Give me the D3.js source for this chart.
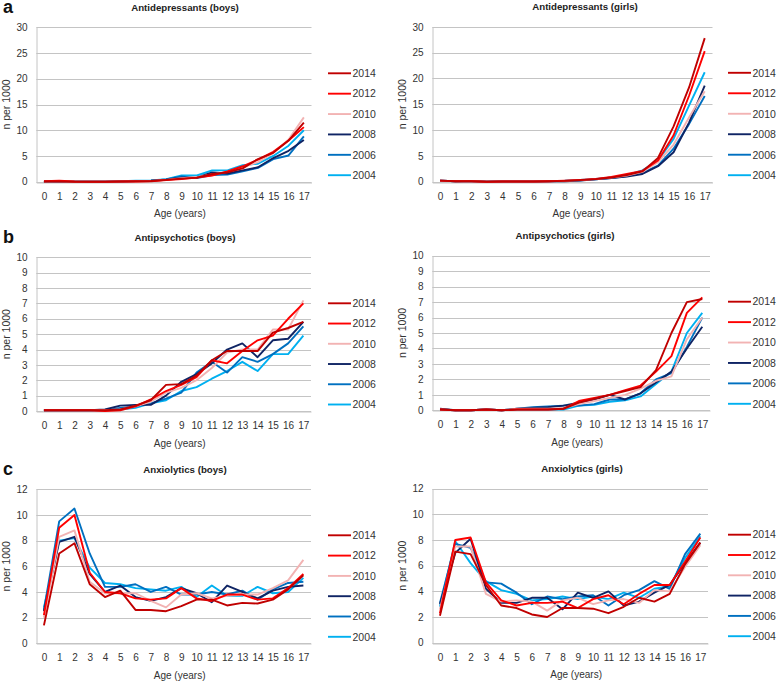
<!DOCTYPE html>
<html>
<head>
<meta charset="utf-8">
<script src="https://cdn.jsdelivr.net/npm/d3@7"></script>
<style>
  html, body { margin: 0; padding: 0; background: #fff; }
  svg { display: block; font-family: "Liberation Sans", Arial, sans-serif; }
</style>
</head>
<body>
<svg id="chart" width="778" height="681"></svg>
<script>
// ---- Data ----
const ages = ["0","1","2","3","4","5","6","7","8","9","10","11","12","13","14","15","16","17"];
const years = ["2014", "2012", "2010", "2008", "2006", "2004"];
const yearColors = ["#C00000", "#FF0000", "#F2B3B3", "#0F2464", "#0070C0", "#00B0F0"];

const ticksAntidepressants = [0, 5, 10, 15, 20, 25, 30];
const ticksAntipsychotics = [0, 1, 2, 3, 4, 5, 6, 7, 8, 9, 10];
const ticksAnxiolytics = [0, 2, 4, 6, 8, 10, 12];

// rows: 2014, 2012, 2010, 2008, 2006, 2004 ; columns: age 0..17
const antidepressantsBoys = [
  [0.05,0.05,0.0,0.0,0.0,0.05,0.1,0.15,0.35,0.6,0.8,1.5,1.8,2.6,4.4,5.6,8.0,11.5],
  [0.1,0.2,0.05,0.0,0.0,0.05,0.05,0.1,0.3,0.5,0.8,1.2,2.0,3.0,4.3,5.8,8.0,10.6],
  [0.05,0.05,0.0,0.0,0.0,0.05,0.1,0.15,0.35,0.7,0.9,1.4,1.9,2.8,3.8,5.6,8.2,12.5],
  [0.05,0.0,0.0,0.0,0.0,0.05,0.15,0.2,0.4,0.8,0.8,1.8,1.6,2.2,2.8,4.6,6.0,8.1],
  [0.05,0.0,0.0,0.0,0.0,0.05,0.15,0.2,0.45,1.0,0.7,1.3,1.4,2.0,2.7,4.4,5.1,8.8],
  [0.05,0.0,0.0,0.0,0.0,0.1,0.2,0.25,0.5,1.2,1.2,2.2,2.2,3.2,3.5,5.0,7.0,10.0]
];
const antidepressantsGirls = [
  [0.2,0.1,0.1,0.0,0.05,0.05,0.05,0.1,0.15,0.3,0.5,0.8,1.3,2.0,4.6,10.7,18.3,27.8],
  [0.2,0.1,0.1,0.0,0.05,0.05,0.05,0.1,0.2,0.35,0.55,0.9,1.5,2.1,4.1,9.0,16.7,25.3],
  [0.2,0.1,0.1,0.0,0.05,0.05,0.05,0.1,0.15,0.3,0.5,0.8,1.2,1.9,3.8,7.2,12.5,17.5],
  [0.2,0.1,0.15,0.0,0.05,0.05,0.05,0.1,0.1,0.2,0.45,0.7,1.0,1.5,3.0,5.7,11.5,18.6],
  [0.2,0.1,0.1,0.0,0.05,0.05,0.05,0.1,0.15,0.25,0.45,0.7,1.1,1.7,3.1,6.4,11.2,16.6],
  [0.2,0.1,0.1,0.0,0.05,0.05,0.05,0.15,0.2,0.35,0.55,0.8,1.3,2.2,4.1,8.3,14.8,21.2]
];
const antipsychoticsBoys = [
  [0.05,0.05,0.05,0.05,0.05,0.1,0.35,0.7,1.7,1.75,2.3,3.3,3.9,3.9,3.9,5.1,5.4,5.8],
  [0.05,0.05,0.05,0.05,0.0,0.05,0.3,0.75,1.3,1.7,2.2,3.3,3.1,3.9,4.6,4.9,6.0,7.0],
  [0.05,0.05,0.05,0.05,0.05,0.1,0.3,0.6,1.2,1.5,2.0,2.8,3.8,4.0,4.0,5.3,5.3,7.2],
  [0.05,0.05,0.05,0.05,0.1,0.35,0.4,0.4,1.0,1.9,2.4,3.1,4.0,4.4,3.5,4.6,4.7,5.8],
  [0.05,0.05,0.05,0.05,0.05,0.2,0.3,0.5,0.8,1.2,2.5,3.2,2.5,3.5,3.2,3.7,4.4,5.5],
  [0.05,0.05,0.05,0.05,0.05,0.1,0.2,0.5,0.7,1.3,1.55,2.1,2.6,3.2,2.6,3.7,3.7,4.9]
];
const antipsychoticsGirls = [
  [0.05,0.0,0.0,0.05,0.0,0.05,0.05,0.05,0.1,0.5,0.75,1.0,1.25,1.5,2.6,5.0,7.0,7.2],
  [0.05,0.0,0.0,0.05,0.0,0.05,0.05,0.05,0.1,0.6,0.8,1.0,1.3,1.6,2.5,3.5,6.3,7.3],
  [0.05,0.0,0.0,0.05,0.0,0.1,0.1,0.1,0.15,0.4,0.6,0.8,1.0,1.4,1.9,2.2,4.6,6.0],
  [0.1,0.0,0.0,0.05,0.0,0.1,0.15,0.2,0.3,0.5,0.7,1.0,0.7,1.1,1.8,2.5,4.0,5.4],
  [0.05,0.0,0.0,0.05,0.0,0.1,0.2,0.25,0.3,0.3,0.4,0.7,0.7,1.1,2.0,2.4,4.1,6.0],
  [0.05,0.0,0.0,0.05,0.0,0.05,0.05,0.05,0.05,0.3,0.35,0.55,0.65,0.9,1.7,2.5,5.0,6.3]
];
const anxiolyticsBoys = [
  [1.4,7.0,7.8,4.6,3.6,4.1,2.6,2.6,2.5,2.9,3.4,3.4,2.95,3.15,3.1,3.4,4.2,5.3],
  [2.2,9.0,10.0,5.5,4.0,3.9,3.5,3.4,3.5,4.3,3.5,3.3,3.8,3.8,3.4,3.5,4.3,5.4],
  [2.0,8.3,8.8,4.8,3.9,3.9,3.9,3.3,2.8,3.8,3.9,3.5,3.7,3.8,3.8,4.3,4.9,6.5],
  [2.5,7.9,8.3,5.4,4.0,4.5,3.6,3.3,3.6,4.3,3.9,3.2,4.5,4.0,3.5,4.1,4.4,4.5],
  [2.6,9.5,10.5,7.0,4.4,4.4,4.6,4.0,4.4,3.8,3.8,4.0,3.8,4.1,3.4,4.2,4.7,4.8],
  [2.8,8.0,8.2,5.9,4.7,4.6,4.3,4.2,4.1,4.4,3.6,4.5,3.7,3.7,4.4,3.9,4.0,5.1]
];
const anxiolyticsGirls = [
  [2.1,7.1,6.9,4.5,2.9,2.7,2.2,2.0,2.7,2.7,2.65,2.3,2.8,3.5,3.2,3.8,6.1,7.8],
  [2.3,8.0,8.2,4.7,3.3,2.9,3.1,3.1,3.2,2.7,3.4,3.7,3.0,3.8,4.5,4.5,6.3,8.2],
  [2.6,7.5,7.5,3.8,3.2,3.3,3.2,2.5,3.3,3.5,3.0,3.3,3.4,3.1,4.1,4.0,5.9,7.6],
  [3.0,7.0,8.1,4.2,3.1,3.1,3.5,3.5,2.6,3.9,3.5,4.0,2.9,3.2,3.9,4.5,6.2,7.8],
  [3.1,7.7,7.4,4.7,4.6,3.9,3.0,3.6,3.4,3.6,3.7,2.9,3.7,4.1,4.8,4.2,6.9,8.5],
  [2.8,7.9,6.2,4.8,4.1,3.8,3.3,3.4,3.6,3.4,3.6,3.4,3.9,3.5,4.2,4.4,6.6,8.3]
];

// ---- Layout ----
const panels = [
  { title: "Antidepressants (boys)", letter: "a", series: antidepressantsBoys, ticks: ticksAntidepressants,
    box: { l: 36.3, r: 311.5, t: 27.3, b: 181.7 }, titleX: 185, legendX: 328 },
  { title: "Antidepressants (girls)", letter: null, series: antidepressantsGirls, ticks: ticksAntidepressants,
    box: { l: 432.3, r: 712.5, t: 26.8, b: 181.7 }, titleX: 585, legendX: 728 },
  { title: "Antipsychotics (boys)", letter: "b", series: antipsychoticsBoys, ticks: ticksAntipsychotics,
    box: { l: 36.3, r: 311, t: 257.3, b: 411 }, titleX: 185, legendX: 328 },
  { title: "Antipsychotics (girls)", letter: null, series: antipsychoticsGirls, ticks: ticksAntipsychotics,
    box: { l: 432.3, r: 710, t: 255.7, b: 410.3 }, titleX: 565, legendX: 728 },
  { title: "Anxiolytics (boys)", letter: "c", series: anxiolyticsBoys, ticks: ticksAnxiolytics,
    box: { l: 36.3, r: 311, t: 489.3, b: 643.3 }, titleX: 185, legendX: 328 },
  { title: "Anxiolytics (girls)", letter: null, series: anxiolyticsGirls, ticks: ticksAnxiolytics,
    box: { l: 432.3, r: 708, t: 488.7, b: 642.7 }, titleX: 582, legendX: 728 }
];

const svg = d3.select("#chart");
const gridColor = "#C4C4C4";
const textColor = "#333";

panels.forEach(p => {
  const g = svg.append("g");
  const B = p.box;
  const x = d3.scalePoint().domain(ages).range([B.l, B.r]).padding(0.5);
  const y = d3.scaleLinear().domain([0, d3.max(p.ticks)]).range([B.b, B.t]);

  // gridlines
  g.append("g").selectAll("line").data(p.ticks).join("line")
    .attr("x1", B.l).attr("x2", B.r)
    .attr("y1", d => Math.round(y(d)) + 0.5).attr("y2", d => Math.round(y(d)) + 0.5)
    .attr("stroke", gridColor).attr("stroke-width", 1);

  // y axis
  const yAxis = d3.axisLeft(y).tickValues(p.ticks).tickSize(0).tickPadding(9);
  const ya = g.append("g").attr("transform", `translate(${Math.round(B.l) + 0.5},0)`).call(yAxis);
  ya.select(".domain").attr("stroke", gridColor);
  ya.selectAll("text").attr("font-size", 10).attr("fill", textColor)
    .attr("font-family", "Liberation Sans, Arial, sans-serif");

  // x axis
  const xAxis = d3.axisBottom(x).tickSize(0).tickPadding(10);
  const xa = g.append("g").attr("transform", `translate(0,${Math.round(B.b) + 0.5})`).call(xAxis);
  xa.select(".domain").attr("stroke", gridColor);
  xa.selectAll("text").attr("font-size", 10).attr("fill", textColor)
    .attr("font-family", "Liberation Sans, Arial, sans-serif");

  // lines (draw 2004 first so 2014 sits on top)
  const line = d3.line().x((d, i) => x(ages[i])).y(d => y(d));
  const order = d3.range(years.length).reverse();
  g.append("g").selectAll("path").data(order).join("path")
    .attr("d", k => line(p.series[k]))
    .attr("fill", "none")
    .attr("stroke", k => yearColors[k])
    .attr("stroke-width", 1.9)
    .attr("stroke-linejoin", "round");

  // title
  g.append("text").attr("x", p.titleX).attr("y", B.t - 16.5)
    .attr("text-anchor", "middle").attr("font-size", 9.7).attr("font-weight", "bold")
    .attr("fill", "#222").text(p.title);

  // panel letter
  if (p.letter) {
    g.append("text").attr("x", 3).attr("y", B.t - 14.5)
      .attr("font-size", 18).attr("font-weight", "bold").attr("fill", "#111").text(p.letter);
  }

  // axis titles
  const axX = B.l < 200 ? 9.5 : 405.5;
  g.append("text")
    .attr("transform", `translate(${axX},${(B.t + B.b) / 2}) rotate(-90)`)
    .attr("text-anchor", "middle").attr("font-size", 10.5).attr("fill", textColor)
    .text("n per 1000");
  g.append("text").attr("x", (B.l + B.r) / 2 + 6).attr("y", B.b + 35.5)
    .attr("text-anchor", "middle").attr("font-size", 10).attr("fill", textColor)
    .text("Age (years)");

  // legend
  const ly0 = B.t + 46, ly1 = B.b - 6.5;
  const ly = d3.scaleLinear().domain([0, years.length - 1]).range([ly0, ly1]);
  const lg = g.append("g").selectAll("g").data(years).join("g")
    .attr("transform", (d, i) => `translate(${p.legendX},${ly(i)})`);
  lg.append("line").attr("x1", 0).attr("x2", 23).attr("y1", 0).attr("y2", 0)
    .attr("stroke", (d, i) => yearColors[i]).attr("stroke-width", 1.9);
  lg.append("text").attr("x", 24.5).attr("y", 0).attr("dy", "0.36em")
    .attr("font-size", 10.5).attr("fill", textColor).text(d => d);
});
</script>
</body>
</html>
